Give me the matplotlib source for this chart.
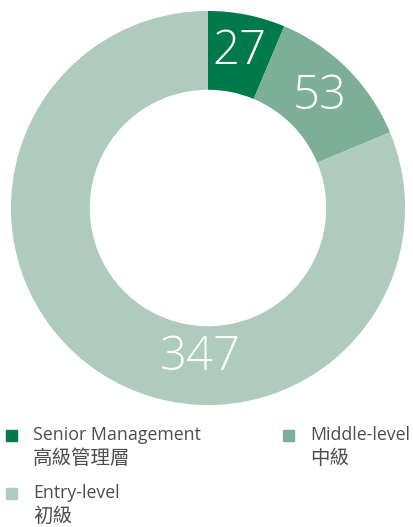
import matplotlib.pyplot as plt
import numpy as np
from matplotlib.patches import Rectangle

plt.rcParams['font.family'] = ['Open Sans', 'Noto Sans CJK TC', 'DejaVu Sans']

# Datos
categorias_en = ['Senior Management', 'Middle-level', 'Entry-level']
categorias_zh = ['高級管理層', '中級', '初級']
valores = [27, 53, 347]
colores = ['#007a4b', '#7dae96', '#aecbbd']

W, H = 414, 527
fig = plt.figure(figsize=(W / 100, H / 100), dpi=100)

# Gráfico de anillo
ax = fig.add_axes([8 / W, (H - 408) / H, 400 / W, 400 / H])
ax.pie(valores, colors=colores, startangle=90, counterclock=False,
       radius=1.0, wedgeprops=dict(width=0.4, linewidth=0))
ax.set_xlim(-1.015, 1.015)
ax.set_ylim(-1.015, 1.015)
ax.set_aspect('equal')
ax.axis('off')

# Etiquetas de valores
total = sum(valores)
inicio = 0
angulos = []
for v in valores:
    angulos.append(inicio + v / total * 180)
    inicio += v / total * 360
angulos[2] = 183  # el valor grande va abajo
radios = [0.81, 0.80, 0.76]
for v, a, r in zip(valores, angulos, radios):
    t = np.deg2rad(a)
    ax.text(r * np.sin(t), r * np.cos(t), str(v), color='white',
            fontsize=34, fontweight='light', ha='center', va='center')

# Leyenda
pos = [(6, 430), (283, 430), (6, 488)]
for (x, y), en, zh, c in zip(pos, categorias_en, categorias_zh, colores):
    fig.patches.append(Rectangle((x / W, (H - y - 11) / H), 11 / W, 11 / H,
                                 transform=fig.transFigure, color=c))
    fig.text((x + 27) / W, (H - y - 5) / H, en, color='#4d4d4d',
             fontsize=12.8, ha='left', va='center')
    fig.text((x + 27) / W, (H - y - 29) / H, zh, color='#4d4d4d',
             fontsize=14, ha='left', va='center')

plt.savefig('out.png', dpi=100)
